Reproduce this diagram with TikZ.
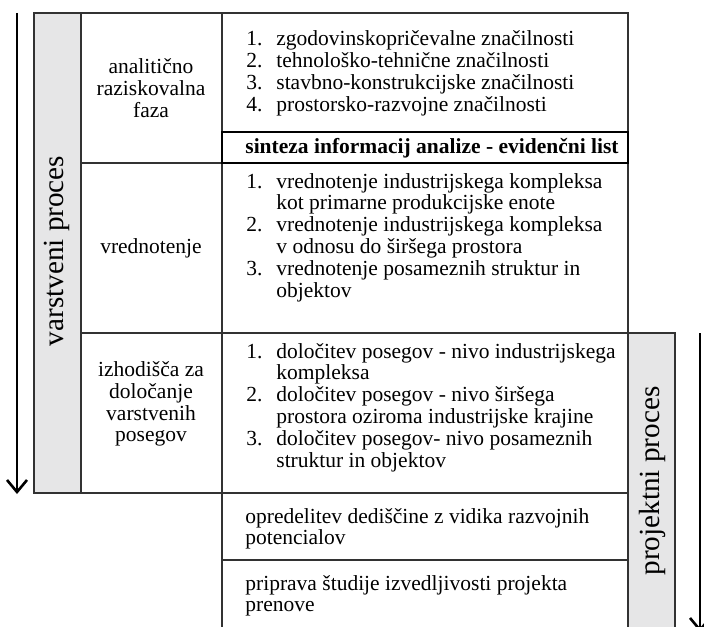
\documentclass[tikz,border=0pt]{standalone}
\usepackage{fontspec}
\setmainfont{Liberation Serif}
\usepackage{tikz}
\usetikzlibrary{arrows.meta}
\definecolor{myGray}{RGB}{230,230,231}
\definecolor{myLine}{RGB}{50,50,50}

\newcommand{\celltext}{\fontsize{10.75}{10.9}\selectfont}
\newcommand{\proctext}{\fontsize{14.6}{15}\selectfont}
\newenvironment{itemtab}{\begin{tabular}[t]{@{}p{15pt}@{}l@{}}}{\end{tabular}}
\newenvironment{linetab}{\begin{tabular}[t]{@{}l@{}}}{\end{tabular}}

\begin{document}
\begin{tikzpicture}[%
	x=0.5pt,y=-0.5pt,
	every node/.style={
		font=\celltext,
		inner sep=0pt,
	},
	grid/.style={draw=myLine, line width=0.6pt},
	synth/.style={draw=black, line width=0.9pt},
	proc/.style={font=\proctext, rotate=90},
	flow/.style={line width=1.3pt, -{Straight Barb[length=6pt,width=10pt,line width=1.3pt]}},
	]
	\useasboundingbox (0,0) rectangle (704,626);
	
	% gray process columns
	\fill[myGray] (34,13) rectangle (81,493);
	\fill[myGray] (628,333) rectangle (675,640);
	
	% draw table lines
	\draw[grid] (34,13) rectangle (628,493);
	\draw[grid] (81,13) -- (81,493);
	\draw[grid] (222,13) -- (222,640);
	\draw[grid] (81,163) -- (628,163);
	\draw[grid] (81,333) -- (628,333);
	\draw[grid] (628,493) -- (628,640);
	\draw[grid] (222,560) -- (628,560);
	\draw[grid] (628,640) -- (628,333) -- (675,333) -- (675,640);
	\draw[synth] (222,132) rectangle (628,163);
	
	% phase labels
	\node[align=center] (analiza) at (151,88) {analitično\\raziskovalna\\faza};
	\node (vred) at (151,248) {vrednotenje};
	\node[align=center] (izhod) at (151,404) {izhodišča za\\določanje\\varstvenih\\posegov};
	
	% lists
	\node[anchor=base west] (zna) at (246,46) {\begin{itemtab}
		1. & zgodovinskopričevalne značilnosti\\
		2. & tehnološko-tehnične značilnosti\\
		3. & stavbno-konstrukcijske značilnosti\\
		4. & prostorsko-razvojne značilnosti
	\end{itemtab}};
	\node[anchor=base west, font=\celltext\bfseries] (sint) at (245,153) {sinteza informacij analize - evidenčni list};
	\node[anchor=base west] (vrlist) at (246,188) {\begin{itemtab}
		1. & vrednotenje industrijskega kompleksa\\
		   & kot primarne produkcijske enote\\
		2. & vrednotenje industrijskega kompleksa\\
		   & v odnosu do širšega prostora\\
		3. & vrednotenje posameznih struktur in\\
		   & objektov
	\end{itemtab}};
	\node[anchor=base west] (poslist) at (246,358) {\begin{itemtab}
		1. & določitev posegov - nivo industrijskega\\
		   & kompleksa\\
		2. & določitev posegov - nivo širšega\\
		   & prostora oziroma industrijske krajine\\
		3. & določitev posegov- nivo posameznih\\
		   & struktur in objektov
	\end{itemtab}};
	\node[anchor=base west] (dedis) at (245,523) {\begin{linetab}
		opredelitev dediščine z vidika razvojnih\\
		potencialov
	\end{linetab}};
	\node[anchor=base west] (studija) at (245,590) {\begin{linetab}
		priprava študije izvedljivosti projekta\\
		prenove
	\end{linetab}};
	
	% process labels and arrows
	\node[proc] (varst) at (57,251) {varstveni proces};
	\node[proc] (projekt) at (652,481) {projektni proces};
	\coordinate (vzac) at (17,13);
	\coordinate (vkon) at (17,494);
	\coordinate (pzac) at (700,333);
	\coordinate (pkon) at (700,632);
	\draw[flow] (vzac) -- (vkon);
	\draw[flow] (pzac) -- (pkon);
\end{tikzpicture}
\end{document}
